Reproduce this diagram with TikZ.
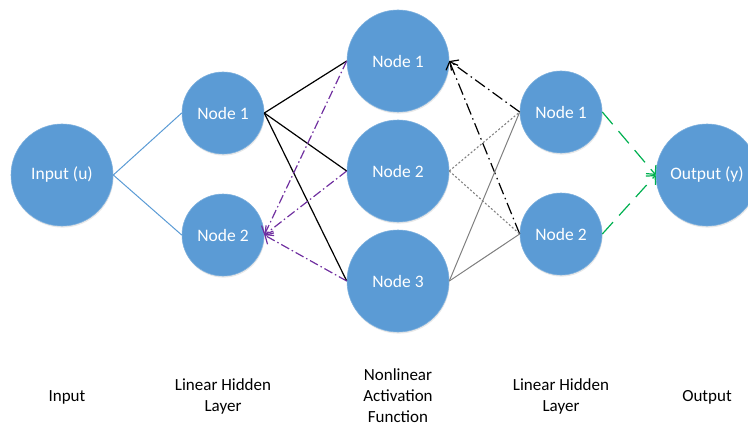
\documentclass[tikz,border=0pt]{standalone}
\usepackage{fontspec}
\setmainfont{Carlito}
\usepackage{xcolor}
\usetikzlibrary{arrows.meta}
\usetikzlibrary{shadows}
\definecolor{nodeblue}{HTML}{5B9BD5}
\definecolor{linkpurple}{HTML}{7030A0}
\definecolor{linkgreen}{HTML}{00B050}
\definecolor{linkgray}{HTML}{808080}
\tikzset{
    unit/.style={circle, fill=nodeblue, draw=nodeblue!80!white, line width=0.6pt,
        text=white, inner sep=0pt, font=\fontsize{17.5}{21}\selectfont,
        drop shadow={shadow xshift=0.6pt, shadow yshift=-1.6pt, opacity=0.18}},
    bigunit/.style={unit, minimum size=102pt},
    smallunit/.style={unit, minimum size=82pt},
    barb/.style={-{Straight Barb[length=6.5pt, width=13pt, line width=1.2pt]}}
}

\begin{document}
\begin{tikzpicture}[x=1pt, y=-1pt,
		every node/.style={font=\fontsize{17}{21}\selectfont},
		caption/.style={align=center, text=black}]
		\useasboundingbox (0,0) rectangle (748,428);

		% layers
		\node[bigunit] (inp) at (62,175) {Input (u)};

		\node[smallunit] (lina) at (223,113) {Node 1};
		\node[smallunit] (linb) at (223,235) {Node 2};

		\node[bigunit] (acta) at (398,61) {Node 1};
		\node[bigunit] (actb) at (398,171) {Node 2};
		\node[bigunit] (actc) at (398,281) {Node 3};

		\node[smallunit] (outa) at (561,112) {Node 1};
		\node[smallunit] (outb) at (561,234) {Node 2};

		\node[bigunit] (outp) at (707,175) {Output (y)};

		% links
		\draw[nodeblue, line width=1pt] (inp.east) -- (lina.west);
		\draw[nodeblue, line width=1pt] (inp.east) -- (linb.west);

		\draw[black, line width=1.2pt] (lina.east) -- (acta.west);
		\draw[black, line width=1.2pt] (lina.east) -- (actb.west);
		\draw[black, line width=1.2pt] (lina.east) -- (actc.west);

		\draw[linkpurple, line width=1.2pt, barb, dash pattern=on 9pt off 3pt on 1.5pt off 3pt] (acta.west) -- (linb.east);
		\draw[linkpurple, line width=1.2pt, barb, dash pattern=on 9pt off 3pt on 1.5pt off 3pt] (actb.west) -- (linb.east);
		\draw[linkpurple, line width=1.2pt, barb, dash pattern=on 9pt off 3pt on 1.5pt off 3pt] (actc.west) -- (linb.east);

		\draw[black, line width=1.2pt, barb, dash pattern=on 12pt off 4pt on 1.5pt off 4pt] (outa.west) -- (acta.east);
		\draw[black, line width=1.2pt, barb, dash pattern=on 12pt off 4pt on 1.5pt off 4pt] (outb.west) -- (acta.east);

		\draw[linkgray, line width=1.1pt, dash pattern=on 2pt off 2pt] (actb.east) -- (outa.west);
		\draw[linkgray, line width=1.1pt, dash pattern=on 2pt off 2pt] (actb.east) -- (outb.west);

		\draw[linkgray, line width=1pt] (actc.east) -- (outa.west);
		\draw[linkgray, line width=1pt] (actc.east) -- (outb.west);

		\draw[linkgreen, line width=1.2pt, barb, dash pattern=on 16pt off 9pt] (outa.east) -- (outp.west);
		\draw[linkgreen, line width=1.2pt, barb, dash pattern=on 16pt off 9pt] (outb.east) -- (outp.west);

		% captions
		\node[caption] (capin) at (67,397) {Input};
		\node[caption] (capla) at (223,396) {Linear Hidden\\Layer};
		\node[caption] (capnl) at (398,396) {Nonlinear\\Activation\\Function};
		\node[caption] (caplb) at (561,396) {Linear Hidden\\Layer};
		\node[caption] (capout) at (707,397) {Output};
\end{tikzpicture}
\end{document}
